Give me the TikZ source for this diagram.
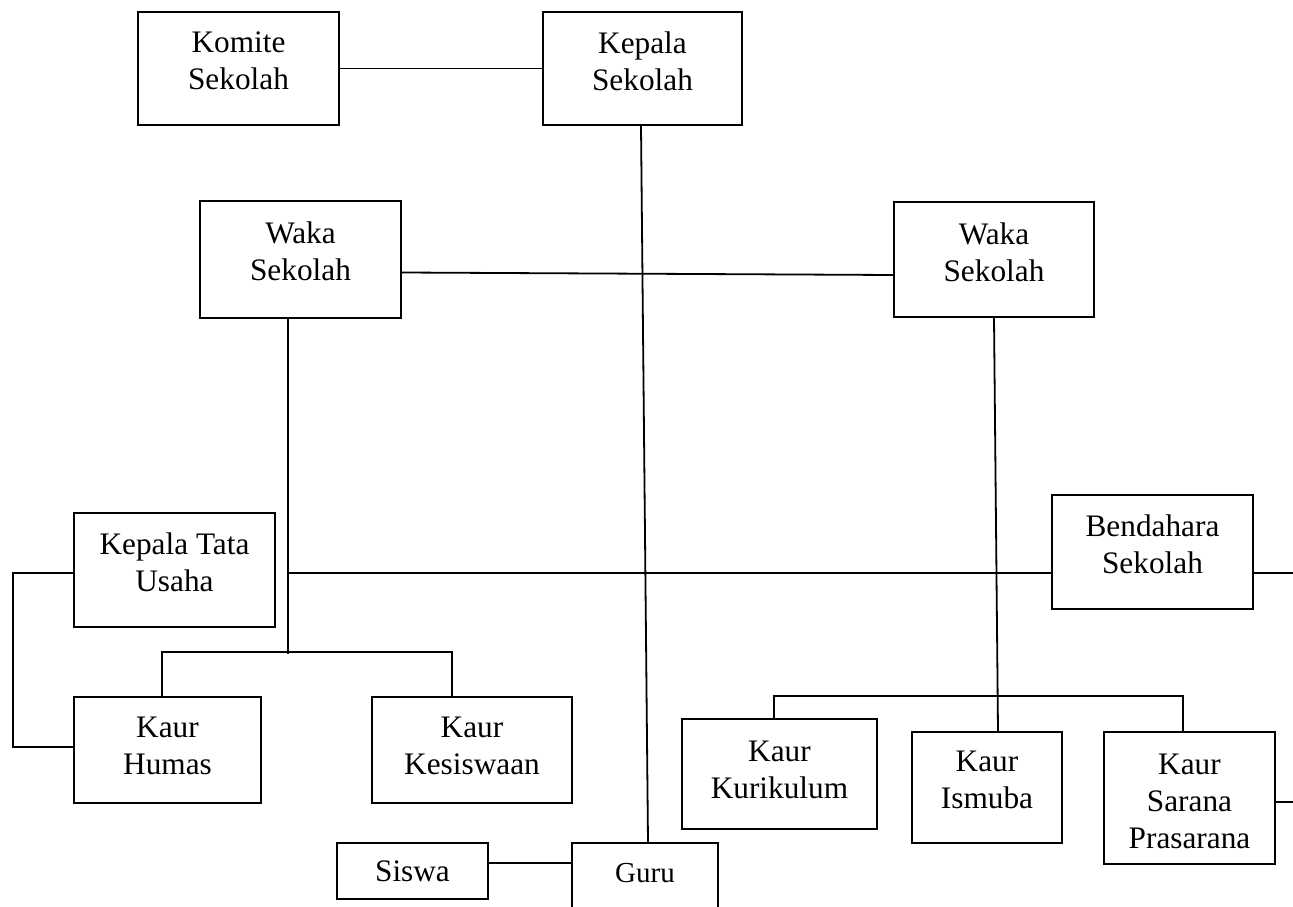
\documentclass[tikz,border=0pt]{standalone}
\usepackage{fontspec}
\setmainfont{Liberation Serif}
\begin{document}
\begin{tikzpicture}[x=1pt,y=-1pt,
  box/.style={draw, line width=1.8pt, inner sep=0pt, rectangle},
  lbl/.style={anchor=north, inner sep=0pt, align=center, font=\fontsize{31.3}{37}\selectfont},
  conn/.style={line width=1.8pt}]
\clip (0,0) rectangle (1293,907);
% boxes
\node[box, minimum width=201pt, minimum height=113pt] (komite) at (238.5,68.5) {};
\node[box, minimum width=199pt, minimum height=113pt] (kepala) at (642.5,68.5) {};
\node[box, minimum width=201pt, minimum height=117pt] (waka1) at (300.5,259.5) {};
\node[box, minimum width=200pt, minimum height=115pt] (waka2) at (994,259.5) {};
\node[box, minimum width=201pt, minimum height=114pt] (ktu) at (174.5,570) {};
\node[box, minimum width=201pt, minimum height=114pt] (bendahara) at (1152.5,552) {};
\node[box, minimum width=187pt, minimum height=106pt] (humas) at (167.5,750) {};
\node[box, minimum width=200pt, minimum height=106pt] (kesiswaan) at (472,750) {};
\node[box, minimum width=195pt, minimum height=110pt] (kurikulum) at (779.5,774) {};
\node[box, minimum width=150pt, minimum height=111pt] (ismuba) at (987,787.5) {};
\node[box, minimum width=171pt, minimum height=132pt] (sarana) at (1189.5,798) {};
\node[box, minimum width=151pt, minimum height=56pt, font=\fontsize{31.3}{37}\selectfont] (siswa) at (412.5,871) {Siswa};
\node[box, minimum width=146pt, minimum height=68pt] (guru) at (645,877) {};
% texts
\node[lbl, yshift=-20pt] (komite-t) at (komite.north) {Komite\\Sekolah};
\node[lbl, yshift=-20pt] (kepala-t) at (kepala.north) {Kepala\\Sekolah};
\node[lbl, yshift=-21pt] (waka1-t) at (waka1.north) {Waka\\Sekolah};
\node[lbl, yshift=-21pt] (waka2-t) at (waka2.north) {Waka\\Sekolah};
\node[lbl, yshift=-20pt] (ktu-t) at (ktu.north) {Kepala Tata\\Usaha};
\node[lbl, yshift=-20pt] (bendahara-t) at (bendahara.north) {Bendahara\\Sekolah};
\node[lbl, yshift=-21pt] (humas-t) at (humas.north) {Kaur\\Humas};
\node[lbl, yshift=-21pt] (kesiswaan-t) at (kesiswaan.north) {Kaur\\Kesiswaan};
\node[lbl, yshift=-23pt] (kurikulum-t) at (kurikulum.north) {Kaur\\Kurikulum};
\node[lbl, yshift=-20pt] (ismuba-t) at (ismuba.north) {Kaur\\Ismuba};
\node[lbl, yshift=-23pt] (sarana-t) at (sarana.north) {Kaur\\Sarana\\Prasarana};
\node[inner sep=0pt, font=\fontsize{29}{34}\selectfont] (guru-t) at ([yshift=4pt]guru.center) {Guru};
% connectors
\draw[conn] (komite.east) -- (kepala.west);
\draw[conn] ([xshift=-1.5pt]kepala.south) -- ([xshift=3pt]guru.north);
\draw[conn] ([yshift=-13pt]waka1.east) -- ([yshift=-15.5pt]waka2.west);
\draw[conn] ([xshift=-12.5pt]waka1.south) -- ++(0,335);
\draw[conn] ([xshift=-5.5pt]humas.north) -- ++(0,-44) -| ([xshift=-20pt]kesiswaan.north);
\draw[conn] ([yshift=-21pt]bendahara.west) -- ++(-764,0);
\draw[conn] ([yshift=-21pt]bendahara.east) -- ++(45,0);
\draw[conn] ([yshift=-3pt]ktu.west) -- ++(-60,0) |- ([yshift=3pt]humas.west);
\draw[conn] (waka2.south) -- ([xshift=11pt]ismuba.north);
\draw[conn] ([xshift=-5.5pt]kurikulum.north) -- ++(0,-22) -| ([xshift=-6.5pt]sarana.north);
\draw[conn] ([yshift=-4pt]sarana.east) -- ++(25,0);
\draw[conn] ([yshift=8pt]siswa.east) -- ([yshift=8pt]siswa.east -| guru.west);
\end{tikzpicture}
\end{document}
